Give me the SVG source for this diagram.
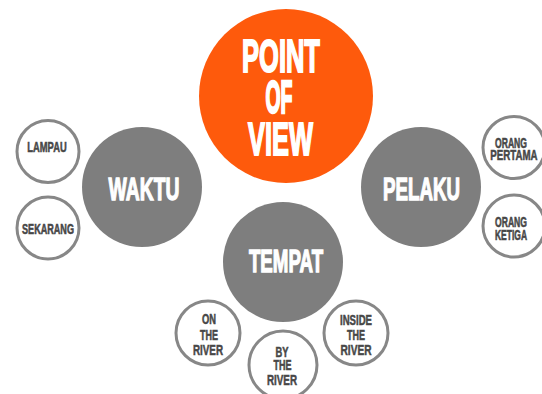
<svg xmlns="http://www.w3.org/2000/svg" width="542" height="394" viewBox="0 0 542 394">
<style>
text{font-family:"Liberation Sans","DejaVu Sans",sans-serif;font-weight:bold;text-anchor:middle}
.main{fill:#fe5a0c}
.cat{fill:#7e7e7e}
.sub{fill:#ffffff;stroke:#878787;stroke-width:3}
.big{fill:#ffffff;stroke:#ffffff;stroke-width:1.1}
.mid{fill:#ffffff;stroke:#ffffff;stroke-width:0.8}
.sm{fill:#474747;stroke:#474747;stroke-width:0.35}
</style>
<rect width="542" height="394" fill="#ffffff"/>
<g id="connectors"></g>
<g id="pov">
<circle class="main" cx="286" cy="96" r="87"/>
<text class="big" font-size="25.5" transform="translate(281 72) scale(1 1.81)">POINT</text>
<text class="big" font-size="19.4" transform="translate(279 113) scale(1 2.37)">OF</text>
<text class="big" font-size="25.4" transform="translate(280.5 155) scale(1 1.81)">VIEW</text>
</g>
<g id="waktu">
<circle class="cat" cx="142" cy="187" r="60"/>
<text class="mid" font-size="19.35" transform="translate(144 200) scale(1 1.588)">WAKTU</text>
</g>
<g id="pelaku">
<circle class="cat" cx="421" cy="187" r="60"/>
<text class="mid" font-size="18.73" transform="translate(421.5 200) scale(1 1.64)">PELAKU</text>
</g>
<g id="tempat">
<circle class="cat" cx="283" cy="262" r="60"/>
<text class="mid" font-size="18.73" transform="translate(286 272) scale(1 1.678)">TEMPAT</text>
</g>
<g id="lampau">
<circle class="sub" cx="48" cy="151.5" r="31"/>
<text class="sm" font-size="9.35" transform="translate(47 152) scale(1 1.494)">LAMPAU</text>
</g>
<g id="sekarang">
<circle class="sub" cx="48" cy="228" r="31"/>
<text class="sm" font-size="9.09" transform="translate(48 234) scale(1 1.537)">SEKARANG</text>
</g>
<g id="orang-pertama">
<circle class="sub" cx="514" cy="147.5" r="31"/>
<text class="sm" font-size="8.6" transform="translate(511 148) scale(1 1.624)">ORANG</text>
<text class="sm" font-size="9.71" transform="translate(514 160) scale(1 1.438)">PERTAMA</text>
</g>
<g id="orang-ketiga">
<circle class="sub" cx="514" cy="226" r="31"/>
<text class="sm" font-size="8.6" transform="translate(511 226.5) scale(1 1.624)">ORANG</text>
<text class="sm" font-size="8.47" transform="translate(511 240) scale(1 1.649)">KETIGA</text>
</g>
<g id="on-the-river">
<circle class="sub" cx="208" cy="333" r="32"/>
<text class="sm" font-size="9.33" transform="translate(209 324) scale(1 1.497)">ON</text>
<text class="sm" font-size="9" transform="translate(209 340) scale(1 1.552)">THE</text>
<text class="sm" font-size="9.82" transform="translate(208 355) scale(1 1.422)">RIVER</text>
</g>
<g id="by-the-river">
<circle class="sub" cx="283" cy="365" r="34"/>
<text class="sm" font-size="9.36" transform="translate(282 356.5) scale(1 1.492)">BY</text>
<text class="sm" font-size="9" transform="translate(282.5 370) scale(1 1.552)">THE</text>
<text class="sm" font-size="9.82" transform="translate(282 385) scale(1 1.422)">RIVER</text>
</g>
<g id="inside-the-river">
<circle class="sub" cx="356" cy="333" r="32"/>
<text class="sm" font-size="9.6" transform="translate(356 325) scale(1 1.455)">INSIDE</text>
<text class="sm" font-size="9" transform="translate(356 340) scale(1 1.552)">THE</text>
<text class="sm" font-size="10.14" transform="translate(356 355) scale(1 1.377)">RIVER</text>
</g>
</svg>
